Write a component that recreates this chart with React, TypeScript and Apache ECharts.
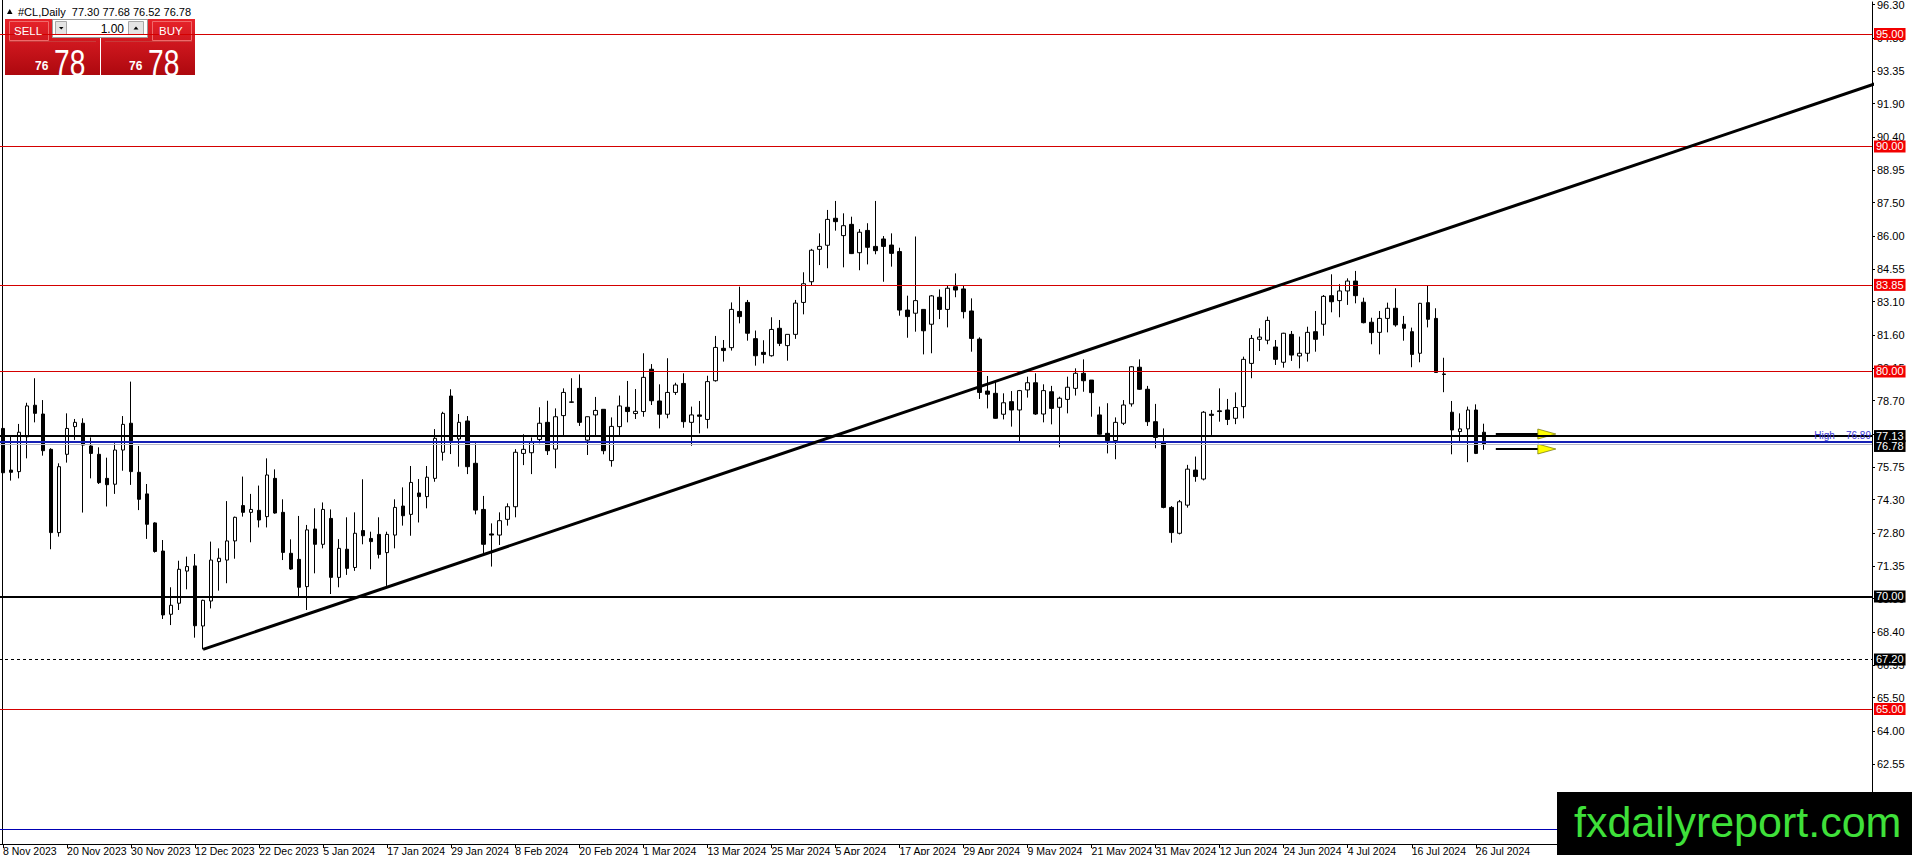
import React, { useEffect, useRef } from "react";
import * as echarts from "echarts";

// ---------- data ----------
const opens = [
  77.47, 75.62, 75.55, 77.10, 78.50, 78.11, 76.54, 72.84, 76.32, 77.55,
  77.70, 76.69, 76.32, 75.25, 74.99, 76.51, 77.70, 75.52, 74.56, 73.27,
  72.02, 69.21, 69.70, 71.13, 71.36, 68.69, 69.80, 71.55, 71.62, 72.47,
  74.04, 73.74, 73.83, 73.55, 75.25, 73.74, 71.92, 71.65, 70.44, 73.00,
  72.32, 73.47, 70.85, 72.10, 71.29, 72.93, 72.58, 72.76, 71.95, 72.73,
  74.02, 73.65, 74.60, 74.44, 75.25, 76.41, 78.91, 77.00, 77.80, 75.92,
  73.87, 72.78, 72.73, 73.43, 73.99, 76.36, 76.39, 76.98, 77.74, 76.55,
  78.04, 78.63, 79.25, 76.95, 78.07, 78.32, 76.04, 77.55, 78.41, 78.13,
  78.22, 80.10, 78.69, 78.10, 79.07, 79.47, 77.74, 78.07, 77.87, 79.59,
  81.03, 81.06, 82.67, 83.07, 81.46, 80.85, 80.70, 81.92, 81.15, 81.65,
  83.07, 83.99, 85.43, 85.61, 86.81, 86.04, 86.54, 85.28, 86.27, 85.56,
  85.89, 85.62, 85.33, 82.73, 82.59, 82.76, 82.10, 83.30, 82.76, 83.77,
  83.67, 82.69, 81.44, 79.13, 79.03, 78.10, 78.66, 78.29, 79.18, 79.50,
  78.11, 79.10, 78.41, 78.76, 79.25, 79.92, 79.62, 78.07, 77.25, 76.93,
  77.70, 78.56, 80.19, 79.21, 77.77, 76.85, 73.96, 72.81, 74.06, 75.62,
  75.22, 78.10, 78.25, 78.29, 77.92, 78.44, 80.36, 81.43, 81.39, 81.09,
  80.41, 81.65, 80.69, 80.81, 81.77, 82.10, 83.37, 83.15, 83.58, 84.02,
  83.08, 82.19, 81.74, 82.36, 82.81, 82.10, 81.77, 80.81, 83.06, 82.36,
  79.89, 78.19, 77.33, 77.45, 78.29, 77.30,
];
const highs = [
  77.60, 77.10, 77.67, 78.61, 79.70, 78.73, 76.59, 75.92, 78.14, 77.89,
  77.92, 77.07, 76.63, 76.17, 76.81, 78.02, 79.55, 76.69, 75.00, 73.30,
  72.51, 70.41, 71.59, 71.77, 71.89, 69.86, 72.44, 72.14, 74.24, 73.55,
  75.33, 74.56, 74.93, 76.14, 75.65, 74.32, 72.54, 73.58, 73.18, 73.92,
  74.18, 73.87, 72.55, 73.52, 73.74, 75.21, 72.88, 73.52, 72.88, 74.32,
  74.85, 75.80, 75.22, 75.80, 77.44, 78.21, 79.21, 78.11, 78.02, 76.81,
  74.47, 73.25, 73.74, 74.14, 76.55, 77.21, 77.07, 78.41, 78.70, 78.36,
  79.25, 79.70, 79.87, 78.00, 78.87, 78.32, 77.96, 78.93, 79.58, 79.22,
  80.81, 80.33, 79.43, 80.59, 79.50, 79.92, 78.44, 78.69, 79.81, 81.58,
  81.40, 83.07, 83.77, 83.18, 81.82, 81.39, 82.41, 82.29, 81.65, 83.18,
  84.41, 85.45, 86.14, 87.18, 87.58, 87.03, 86.88, 86.33, 86.59, 87.58,
  86.02, 86.14, 85.50, 83.37, 86.00, 82.76, 83.40, 83.65, 83.80, 84.36,
  83.84, 83.25, 81.52, 79.80, 79.55, 79.03, 79.13, 79.18, 79.77, 79.92,
  79.43, 79.36, 78.88, 79.77, 80.14, 80.54, 79.62, 78.44, 78.59, 77.96,
  78.73, 80.24, 80.54, 79.36, 78.56, 77.47, 74.02, 74.29, 75.85, 76.22,
  78.24, 78.29, 79.25, 78.78, 79.07, 80.66, 81.62, 81.92, 82.44, 81.40,
  81.72, 81.80, 81.55, 81.99, 82.69, 83.40, 84.32, 83.88, 84.14, 84.47,
  83.28, 82.39, 82.69, 83.06, 83.70, 82.47, 81.95, 83.05, 83.80, 82.81,
  80.61, 78.69, 78.14, 78.44, 78.54, 77.68,
];
const lows = [
  74.88, 75.15, 75.25, 76.14, 77.74, 76.26, 72.10, 72.66, 75.95, 76.96,
  73.73, 75.25, 75.00, 74.00, 74.56, 75.59, 74.96, 73.84, 72.56, 71.95,
  69.00, 68.73, 69.40, 70.32, 68.17, 67.65, 69.47, 70.26, 70.59, 71.68,
  73.55, 72.41, 73.07, 73.07, 73.68, 71.62, 71.18, 70.00, 69.40, 71.03,
  72.14, 70.11, 70.41, 70.96, 71.14, 72.32, 71.21, 71.69, 70.47, 72.14,
  73.15, 72.70, 73.29, 73.92, 75.10, 76.04, 76.33, 75.77, 75.44, 73.65,
  71.89, 71.33, 72.29, 73.15, 73.52, 75.84, 75.44, 76.81, 76.29, 75.70,
  77.10, 78.60, 77.58, 76.29, 77.15, 76.32, 75.77, 77.15, 77.74, 77.89,
  77.99, 78.51, 77.47, 77.92, 78.96, 77.50, 76.70, 77.25, 77.47, 79.55,
  80.44, 80.93, 82.14, 81.37, 80.26, 80.36, 80.66, 81.13, 80.48, 81.45,
  82.54, 83.82, 84.73, 84.59, 86.26, 84.63, 85.22, 84.50, 84.76, 85.21,
  83.99, 84.66, 82.48, 81.50, 81.77, 80.76, 80.81, 82.33, 81.96, 83.30,
  82.36, 80.88, 78.78, 78.36, 77.90, 77.87, 77.55, 76.88, 78.84, 78.07,
  77.74, 77.65, 76.63, 78.14, 78.93, 79.10, 77.99, 77.19, 76.36, 76.10,
  77.62, 78.44, 79.18, 77.58, 76.59, 73.92, 72.39, 72.76, 73.95, 75.10,
  75.16, 77.18, 77.77, 77.62, 77.66, 77.92, 79.70, 80.91, 81.21, 80.29,
  80.17, 80.47, 80.14, 80.44, 80.88, 81.59, 82.63, 82.41, 82.96, 83.03,
  82.14, 81.21, 80.76, 81.74, 81.99, 81.37, 80.19, 80.41, 81.96, 79.94,
  79.08, 76.32, 76.88, 75.97, 76.33, 76.52,
];
const closes = [
  75.50, 75.52, 77.30, 78.47, 78.14, 76.48, 72.84, 75.77, 77.47, 77.74,
  76.73, 76.36, 75.06, 74.97, 76.51, 77.65, 75.55, 74.32, 73.21, 72.00,
  69.18, 69.61, 71.21, 71.33, 68.70, 69.83, 71.62, 71.70, 72.47, 73.52,
  73.74, 73.87, 73.40, 75.40, 73.71, 71.96, 71.22, 70.41, 72.96, 72.32,
  73.87, 70.85, 72.14, 71.25, 72.81, 72.70, 72.44, 71.87, 72.76, 73.96,
  73.59, 75.07, 74.44, 75.30, 77.03, 78.14, 76.93, 77.74, 75.77, 73.84,
  72.32, 72.73, 73.37, 73.99, 76.41, 76.54, 76.88, 77.70, 76.48, 77.99,
  79.07, 78.65, 77.74, 77.99, 78.27, 76.48, 77.56, 78.47, 78.22, 78.23,
  79.74, 78.70, 78.10, 79.07, 79.40, 77.77, 78.07, 78.01, 79.55, 81.07,
  80.93, 82.76, 82.44, 81.70, 80.70, 80.76, 81.87, 81.25, 81.65, 83.04,
  83.90, 85.39, 85.56, 86.76, 86.66, 86.48, 85.24, 86.19, 85.52, 85.37,
  85.56, 85.25, 82.73, 82.44, 83.15, 81.81, 83.36, 82.76, 83.70, 83.62,
  82.66, 81.47, 79.07, 78.99, 77.92, 78.61, 78.29, 79.15, 79.50, 78.11,
  79.15, 78.36, 78.81, 79.30, 79.92, 79.59, 79.06, 77.21, 76.93, 77.74,
  78.51, 80.21, 79.21, 77.77, 77.07, 73.96, 72.84, 74.21, 75.66, 75.33,
  78.19, 78.05, 78.22, 77.87, 78.40, 80.54, 81.47, 81.53, 82.27, 80.54,
  81.70, 80.73, 80.81, 81.74, 81.43, 83.34, 83.10, 83.58, 84.02, 83.37,
  82.17, 81.73, 82.36, 82.81, 82.07, 81.92, 80.76, 83.03, 82.32, 79.96,
  79.87, 77.40, 77.45, 78.29, 76.36, 76.78,
];

// calendar of the bars: weekdays from the first bar, minus the market holidays
const firstBarDate = "2023-11-08";
const holidays = ["2023-12-25", "2024-01-01", "2024-03-29"];
const monthNames = ["Jan", "Feb", "Mar", "Apr", "May", "Jun", "Jul", "Aug", "Sep", "Oct", "Nov", "Dec"];
const slotCount = 234; // bars + empty chart shift on the right
const labelEvery = 8;

// y-axis tick labels as printed by the terminal
const yTickLabels = [
  96.3, 94.8, 93.35, 91.9, 90.4, 88.95, 87.5, 86.0, 84.55, 83.1, 81.6, 80.15,
  78.7, 77.2, 75.75, 74.3, 72.8, 71.35, 69.9, 68.4, 66.95, 65.5, 64.0, 62.55,
];
const yMin = 59.0;
const yMax = 96.4222;

// horizontal levels
const redLevels = [95.0, 90.0, 83.85, 80.0, 65.0];
const solidBlackLevels = [77.13, 70.0];
const dashedBlackLevels = [67.2];
const highLevel = 76.89;
const bidLevel = 76.78;
const bottomBlueLevel = 59.65;

// trend line: [bar index, price]
const trendStart = [25, 67.65];
const trendEnd = [234, 92.8];

// arrows: [from index, to index, price]
const arrowObjects = [
  [187, 192, 77.2],
  [187, 192, 76.56],
];

const header = "#CL,Daily  77.30 77.68 76.52 76.78";
const lotSize = "1.00";
const bidBig = "78";
const bidSmall = "76";
const askBig = "78";
const askSmall = "76";
const watermark = "fxdailyreport.com";

const FONT = "Tahoma, 'Liberation Sans', 'DejaVu Sans', sans-serif";

function buildDates(): string[] {
  const out: string[] = [];
  const d = new Date(firstBarDate + "T00:00:00Z");
  while (out.length < slotCount) {
    const wd = d.getUTCDay();
    const iso = d.toISOString().slice(0, 10);
    if (wd !== 0 && wd !== 6 && holidays.indexOf(iso) < 0) {
      out.push(`${d.getUTCDate()} ${monthNames[d.getUTCMonth()]} ${d.getUTCFullYear()}`);
    }
    d.setUTCDate(d.getUTCDate() + 1);
  }
  return out;
}

function levelLabel(bg: string, text: string, extra: any = {}) {
  return {
    show: true,
    position: "end",
    distance: 2,
    formatter: text,
    color: "#ffffff",
    backgroundColor: bg,
    padding: [1, 2, 0, 2],
    fontSize: 11,
    lineHeight: 11,
    fontFamily: FONT,
    ...extra,
  };
}

export default function App() {
  const ref = useRef<HTMLDivElement>(null);

  useEffect(() => {
    if (!ref.current) return;
    const chart = echarts.init(ref.current, null, { renderer: "svg" });
    const dates = buildDates();
    const nBars = opens.length;
    const candleData = opens.map((o, i) => [o, closes[i], lows[i], highs[i]]);

    const markData: any[] = [];
    redLevels.forEach((v) =>
      markData.push({
        yAxis: v,
        lineStyle: { color: "#d40000", width: 1, type: "solid" },
        label: levelLabel("#f20000", v.toFixed(2)),
      })
    );
    solidBlackLevels.forEach((v) =>
      markData.push({
        yAxis: v,
        lineStyle: { color: "#000000", width: 2, type: "solid" },
        label: levelLabel("#000000", v.toFixed(2)),
      })
    );
    dashedBlackLevels.forEach((v) =>
      markData.push({
        yAxis: v,
        lineStyle: { color: "#000000", width: 1, type: [3, 3] },
        label: levelLabel("#000000", v.toFixed(2)),
      })
    );
    markData.push({
      yAxis: highLevel,
      lineStyle: { color: "#1420b4", width: 2, type: "solid" },
      label: {
        show: true,
        position: "insideEndTop",
        distance: 1,
        formatter: "High    " + highLevel.toFixed(2),
        color: "#3b3bd6",
        fontSize: 10,
        fontFamily: FONT,
      },
    });
    markData.push({
      yAxis: bidLevel,
      lineStyle: { color: "#b8b8c8", width: 1, type: "solid" },
      label: levelLabel("#000000", bidLevel.toFixed(2), { offset: [0, 2] }),
    });
    markData.push({
      yAxis: bottomBlueLevel,
      lineStyle: { color: "#0000b4", width: 1, type: "solid" },
      label: { show: false },
    });

    const option: any = {
      animation: false,
      backgroundColor: "#ffffff",
      grid: { left: -1, right: 40, top: 2, bottom: 11, containLabel: false, outerBoundsMode: "none" },
      xAxis: {
        type: "category",
        data: dates,
        boundaryGap: true,
        axisLine: { show: true, lineStyle: { color: "#000000", width: 1 } },
        axisTick: {
          show: true,
          alignWithLabel: true,
          length: 4,
          interval: (i: number) => i % labelEvery === 0 && i < nBars,
          lineStyle: { color: "#000000" },
        },
        axisLabel: {
          show: true,
          interval: (i: number) => i % labelEvery === 0 && i < nBars,
          align: "left",
          margin: 1,
          fontSize: 10.5,
          color: "#000000",
          fontFamily: FONT,
          hideOverlap: false,
        },
        splitLine: { show: false },
      },
      yAxis: {
        type: "value",
        position: "right",
        min: yMin,
        max: yMax,
        axisLine: { show: true, lineStyle: { color: "#000000", width: 1 } },
        axisTick: { show: true, customValues: yTickLabels, length: 3, lineStyle: { color: "#000000" } },
        axisLabel: {
          show: true,
          customValues: yTickLabels,
          formatter: (v: number) => v.toFixed(2),
          fontSize: 11,
          margin: 5,
          color: "#000000",
          fontFamily: FONT,
        },
        splitLine: { show: false },
      },
      series: [
        {
          type: "candlestick",
          data: candleData,
          barWidth: 4,
          itemStyle: {
            color: "#ffffff",
            color0: "#000000",
            borderColor: "#000000",
            borderColor0: "#000000",
            borderColorDoji: "#000000",
            borderWidth: 1,
          },
          emphasis: { disabled: true },
          markLine: {
            silent: true,
            symbol: ["none", "none"],
            animation: false,
            data: markData,
          },
        },
        {
          type: "line",
          data: [trendStart, trendEnd],
          symbol: "none",
          clip: true,
          silent: true,
          lineStyle: { color: "#000000", width: 3 },
          z: 5,
        },
      ],
    };
    chart.setOption(option);

    const red = {
      type: "linear",
      x: 0,
      y: 0,
      x2: 0,
      y2: 1,
      colorStops: [
        { offset: 0, color: "#e8232a" },
        { offset: 1, color: "#ad080e" },
      ],
    };

    const graphics: any[] = [
      // left frame line
      { type: "line", shape: { x1: 2.5, y1: 0, x2: 2.5, y2: 844 }, style: { stroke: "#000", lineWidth: 1 }, silent: true },
      // header
      { type: "polygon", shape: { points: [[7, 14], [12.5, 14], [9.75, 9]] }, style: { fill: "#000" }, silent: true },
      {
        type: "text",
        x: 18,
        y: 11.5,
        style: { text: header, fill: "#000", font: `11px ${FONT}`, verticalAlign: "middle" },
        silent: true,
      },
      // one-click trading panel
      { type: "rect", shape: { x: 5, y: 19, width: 95, height: 56 }, style: { fill: red }, silent: true },
      { type: "rect", shape: { x: 101, y: 19, width: 94, height: 56 }, style: { fill: red }, silent: true },
      { type: "rect", shape: { x: 9.5, y: 21.5, width: 39, height: 19 }, style: { fill: "none", stroke: "#f06a6a", lineWidth: 1 }, silent: true },
      { type: "rect", shape: { x: 152.5, y: 21.5, width: 39, height: 19 }, style: { fill: "none", stroke: "#f06a6a", lineWidth: 1 }, silent: true },
      { type: "line", shape: { x1: 9, y1: 41.5, x2: 96, y2: 41.5 }, style: { stroke: "#c83a3a", lineWidth: 1 }, silent: true },
      { type: "line", shape: { x1: 105, y1: 41.5, x2: 192, y2: 41.5 }, style: { stroke: "#c83a3a", lineWidth: 1 }, silent: true },
      { type: "rect", shape: { x: 52.5, y: 19.5, width: 95, height: 18 }, style: { fill: "#ffffff", stroke: "#9c9c9c", lineWidth: 1 }, silent: true },
      { type: "rect", shape: { x: 55.5, y: 21.5, width: 11, height: 13 }, style: { fill: "#e4e4e4", stroke: "#a8a8a8", lineWidth: 1 }, silent: true },
      { type: "rect", shape: { x: 128.5, y: 21.5, width: 15, height: 13 }, style: { fill: "#e4e4e4", stroke: "#a8a8a8", lineWidth: 1 }, silent: true },
      { type: "polygon", shape: { points: [[59, 27], [63.5, 27], [61.25, 29.5]] }, style: { fill: "#000" }, silent: true },
      { type: "polygon", shape: { points: [[133.5, 29.5], [138.5, 29.5], [136, 26.5]] }, style: { fill: "#000" }, silent: true },
      {
        type: "text",
        x: 124,
        y: 28.5,
        style: { text: lotSize, fill: "#000", font: `12px ${FONT}`, align: "right", verticalAlign: "middle" },
        silent: true,
      },
      { type: "text", x: 14, y: 31, z: 10, style: { text: "SELL", fill: "#fff", font: `11.5px ${FONT}`, verticalAlign: "middle" }, silent: true },
      { type: "text", x: 159, y: 31, z: 10, style: { text: "BUY", fill: "#fff", font: `11.5px ${FONT}`, verticalAlign: "middle" }, silent: true },
      { type: "text", x: 35, y: 66, style: { text: bidSmall, fill: "#fff", font: `bold 12px ${FONT}`, verticalAlign: "middle" }, silent: true },
      { type: "text", x: 129, y: 66, style: { text: askSmall, fill: "#fff", font: `bold 12px ${FONT}`, verticalAlign: "middle" }, silent: true },
      {
        type: "text",
        x: 54,
        y: 63,
        scaleX: 0.76,
        style: { text: bidBig, fill: "#fff", font: `37px ${FONT}`, verticalAlign: "middle" },
        silent: true,
      },
      {
        type: "text",
        x: 148,
        y: 63,
        scaleX: 0.76,
        style: { text: askBig, fill: "#fff", font: `37px ${FONT}`, verticalAlign: "middle" },
        silent: true,
      },
      // watermark
      { type: "rect", shape: { x: 1557, y: 792, width: 355, height: 63 }, style: { fill: "#000000" }, silent: true, z: 100 },
      {
        type: "text",
        x: 1574,
        y: 822,
        z: 101,
        style: {
          text: watermark,
          fill: "#3fe03a",
          font: `43px 'Liberation Sans', Arial, sans-serif`,
          verticalAlign: "middle",
        },
        silent: true,
      },
    ];

    arrowObjects.forEach(([a, b, price]) => {
      const p1 = chart.convertToPixel({ gridIndex: 0 }, [a, price]) as number[];
      const p2 = chart.convertToPixel({ gridIndex: 0 }, [b, price]) as number[];
      if (!p1 || !p2) return;
      const y = Math.round(p1[1]);
      graphics.push({
        type: "line",
        shape: { x1: p1[0] - 4, y1: y, x2: p2[0], y2: y },
        style: { stroke: "#000", lineWidth: 2 },
        silent: true,
      });
      graphics.push({
        type: "polygon",
        shape: { points: [[p2[0] - 2, y - 5], [p2[0] + 16, y], [p2[0] - 2, y + 5]] },
        style: { fill: "#ffff00", stroke: "#707000", lineWidth: 0.7 },
        silent: true,
      });
    });

    chart.setOption({ graphic: graphics });

    return () => chart.dispose();
  }, []);

  return (
    <div
      ref={ref}
      style={{ position: "fixed", left: 0, top: 0, width: 1912, height: 855, background: "#ffffff" }}
    />
  );
}
